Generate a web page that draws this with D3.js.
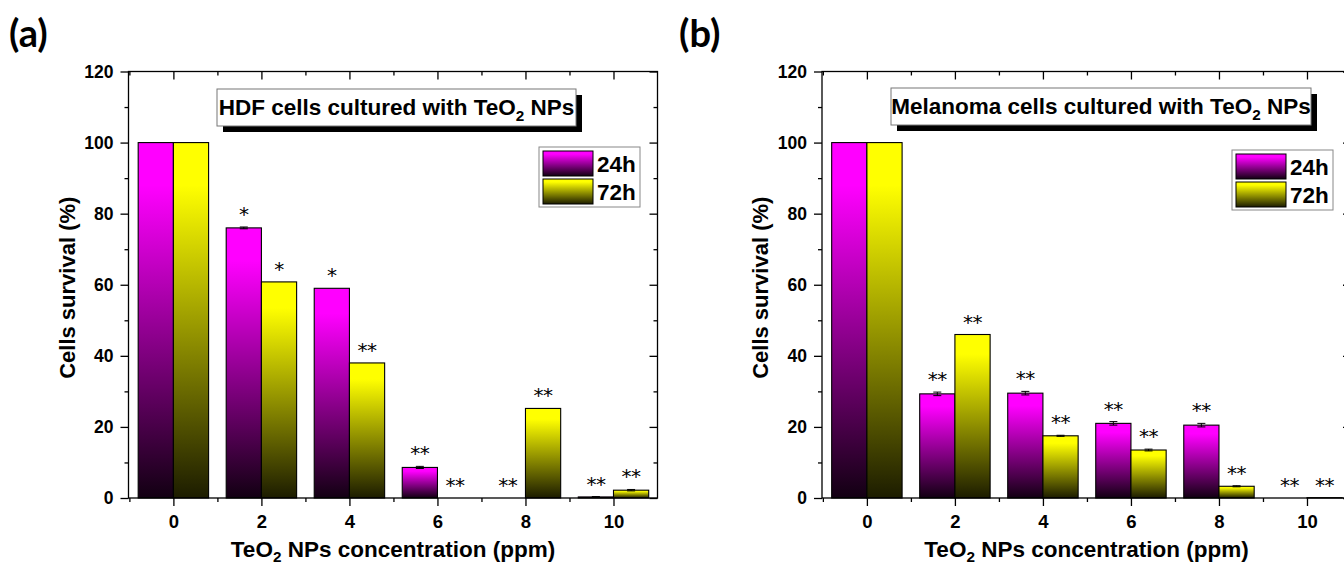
<!DOCTYPE html>
<html><head><meta charset="utf-8">
<script src="https://cdn.jsdelivr.net/npm/d3@7/dist/d3.min.js"></script>
<style>
html,body{margin:0;padding:0;background:#fff;}
svg{display:block;}
text{font-family:"Liberation Sans",Arial,sans-serif;font-weight:bold;fill:#000;}
</style></head>
<body>
<svg id="c" width="1344" height="567"></svg>
<script>
// ---------- data ----------
const concentrations = [0, 2, 4, 6, 8, 10];
const xTickLabels = ["0", "2", "4", "6", "8", "10"];
const yTickLabels = [0, 20, 40, 60, 80, 100, 120];
const seriesNames = ["24h", "72h"];

const hdf24 = [100, 76, 59, 8.6, 0, 0.3];
const hdf24Err = [0, 0.25, 0, 0.3, 0, 0.1];
const hdf72 = [100, 60.8, 38, 0, 25.2, 2.2];
const hdf72Err = [0, 0, 0, 0, 0, 0.2];
const hdf24Sig = ["", "*", "*", "**", "**", "**"];
const hdf72Sig = ["", "*", "**", "**", "**", "**"];

const mel24 = [100, 29.3, 29.5, 21, 20.5, 0];
const mel24Err = [0, 0.5, 0.5, 0.5, 0.5, 0];
const mel72 = [100, 46, 17.5, 13.5, 3.3, 0.1];
const mel72Err = [0, 0, 0.15, 0.25, 0.15, 0];
const mel24Sig = ["", "**", "**", "**", "**", "**"];
const mel72Sig = ["", "**", "**", "**", "**", "**"];

const titleA = ["HDF cells cultured with TeO", "2", " NPs"];
const titleB = ["Melanoma cells cultured with TeO", "2", " NPs"];
const xLabelParts = ["TeO", "2", " NPs concentration (ppm)"];
const yLabel = "Cells survival (%)";

// ---------- drawing ----------
const svg = d3.select("#c");
const defs = svg.append("defs");
function grad(id, c, dark) {
  const g = defs.append("linearGradient").attr("id", id)
    .attr("x1", 0).attr("y1", 0).attr("x2", 0).attr("y2", 1);
  g.append("stop").attr("offset", 0).attr("stop-color", c);
  g.append("stop").attr("offset", 0.12).attr("stop-color", c);
  g.append("stop").attr("offset", 1).attr("stop-color", dark);
}
grad("gM", "#ff00ff", "#120012");
grad("gY", "#ffff00", "#1c1c00");
const fills = ["url(#gM)", "url(#gY)"];
const FONT = '"Liberation Sans",Arial,sans-serif';

function subText(sel, parts, size, sub) {
  sel.append("tspan").text(parts[0]);
  sel.append("tspan").attr("font-size", size * 0.68).attr("dy", size * sub).text(parts[1]);
  sel.append("tspan").attr("dy", -size * sub).text(parts[2]);
}

function panel(o) {
  const g = svg.append("g");
  const left = o.left, width = 529, top = 71.5, bottom = 498;
  const x = d3.scaleLinear().domain([-1.02, 11]).range([left, left + width]);
  const y = d3.scaleLinear().domain([0, 120]).range([bottom, top]);
  const bw = x(0.8) - x(0);

  // bars
  const series = [o.s24, o.s72], errs = [o.e24, o.e72], sigs = [o.sig24, o.sig72];
  series.forEach((vals, si) => {
    const gs = g.append("g");
    gs.selectAll("rect").data(concentrations).join("rect")
      .attr("x", (c) => si === 0 ? x(c) - bw : x(c))
      .attr("y", (c, i) => y(vals[i]))
      .attr("width", bw)
      .attr("height", (c, i) => y(0) - y(vals[i]))
      .attr("fill", fills[si])
      .attr("stroke", "#000").attr("stroke-width", 1.1);
    concentrations.forEach((c, i) => {
      const e = errs[si][i];
      if (e <= 0) return;
      const cx = si === 0 ? x(c) - bw / 2 : x(c) + bw / 2;
      gs.append("line").attr("x1", cx).attr("x2", cx)
        .attr("y1", y(vals[i] - e)).attr("y2", y(vals[i] + e)).attr("stroke", "#000").attr("stroke-width", 1);
      [vals[i] - e, vals[i] + e].forEach(v => gs.append("line")
        .attr("x1", cx - 4).attr("x2", cx + 4).attr("y1", y(v)).attr("y2", y(v))
        .attr("stroke", "#000").attr("stroke-width", 1));
    });
    gs.selectAll("text.sig").data(concentrations).join("text").attr("class", "sig")
      .attr("x", (c) => si === 0 ? x(c) - bw / 2 : x(c) + bw / 2)
      .attr("y", (c, i) => y(vals[i] + errs[si][i]) - 6)
      .attr("text-anchor", "middle").attr("font-size", 20)
      .style("font-family", "'DejaVu Sans', sans-serif").style("font-weight", "normal").attr("letter-spacing", -0.5)
      .text((c, i) => sigs[si][i]);
  });

  // frame
  g.append("rect").attr("x", x(-1.02)).attr("y", top).attr("width", width).attr("height", bottom - top)
    .attr("fill", "none").attr("stroke", "#000").attr("stroke-width", 1.3);

  // x axis
  const xMajor = concentrations, xMinor = [-1, 1, 3, 5, 7, 9];
  const ax = g.append("g").attr("transform", `translate(0,${bottom})`)
    .call(d3.axisBottom(x).tickValues(xMajor).tickFormat((d, i) => xTickLabels[i]).tickSize(8).tickPadding(9));
  ax.select(".domain").remove();
  ax.selectAll("text").attr("font-size", 18.5).style("font-family", FONT).style("font-weight", "bold");
  ax.selectAll("line").attr("stroke-width", 1.3);
  const axm = g.append("g").attr("transform", `translate(0,${bottom})`)
    .call(d3.axisBottom(x).tickValues(xMinor).tickFormat("").tickSize(4));
  axm.select(".domain").remove();
  axm.selectAll("line").attr("stroke-width", 1.3);
  const axt = g.append("g").attr("transform", `translate(0,${top})`)
    .call(d3.axisBottom(x).tickValues(xMajor).tickFormat("").tickSize(8));
  axt.select(".domain").remove(); axt.selectAll("line").attr("stroke-width", 1.3);
  const axtm = g.append("g").attr("transform", `translate(0,${top})`)
    .call(d3.axisBottom(x).tickValues(xMinor).tickFormat("").tickSize(4));
  axtm.select(".domain").remove(); axtm.selectAll("line").attr("stroke-width", 1.3);

  // y axis
  const yMinor = [10, 30, 50, 70, 90, 110];
  const ay = g.append("g").attr("transform", `translate(${left},0)`)
    .call(d3.axisLeft(y).tickValues(yTickLabels).tickSize(8).tickPadding(7));
  ay.select(".domain").remove();
  ay.selectAll("text").attr("font-size", 17.5).style("font-family", FONT).style("font-weight", "bold");
  ay.selectAll("line").attr("stroke-width", 1.3);
  const aym = g.append("g").attr("transform", `translate(${left},0)`)
    .call(d3.axisLeft(y).tickValues(yMinor).tickFormat("").tickSize(4));
  aym.select(".domain").remove(); aym.selectAll("line").attr("stroke-width", 1.3);
  const ar = g.append("g").attr("transform", `translate(${left + width},0)`)
    .call(d3.axisRight(y).tickValues(yTickLabels).tickFormat("").tickSize(-8));
  ar.select(".domain").remove(); ar.selectAll("line").attr("stroke-width", 1.3);
  const arm = g.append("g").attr("transform", `translate(${left + width},0)`)
    .call(d3.axisRight(y).tickValues(yMinor).tickFormat("").tickSize(-4));
  arm.select(".domain").remove(); arm.selectAll("line").attr("stroke-width", 1.3);

  // axis labels
  const xl = g.append("text").attr("x", left + width / 2).attr("y", 557)
    .attr("text-anchor", "middle").attr("font-size", 22.5);
  subText(xl, xLabelParts, 22.5, 0.2);
  g.append("text").attr("transform", `translate(${left - 54},${(top + bottom) / 2 + 3}) rotate(-90)`)
    .attr("text-anchor", "middle").attr("font-size", 22).text(yLabel);

  // title box
  const tb = o.titleBox;
  g.append("rect").attr("x", tb[0] + 6).attr("y", tb[1] + 6).attr("width", tb[2]).attr("height", tb[3]).attr("fill", "#000");
  g.append("rect").attr("x", tb[0]).attr("y", tb[1]).attr("width", tb[2]).attr("height", tb[3])
    .attr("fill", "#fff").attr("stroke", "#777").attr("stroke-width", 1);
  const tt = g.append("text").attr("x", tb[0] + tb[2] / 2).attr("y", tb[1] + 26)
    .attr("text-anchor", "middle").attr("font-size", 22.5);
  subText(tt, o.title, 22.5, 0.28);

  // legend
  const lg = o.legend;
  g.append("rect").attr("x", lg[0]).attr("y", lg[1]).attr("width", 101).attr("height", 60)
    .attr("fill", "#fff").attr("stroke", "#888").attr("stroke-width", 1);
  seriesNames.forEach((n, i) => {
    g.append("rect").attr("x", lg[0] + 4).attr("y", lg[1] + 4 + i * 28).attr("width", 50).attr("height", 25)
      .attr("fill", fills[i]).attr("stroke", "#000").attr("stroke-width", 1);
    g.append("text").attr("x", lg[0] + 58).attr("y", lg[1] + 25 + i * 28).attr("font-size", 22.5).text(n);
  });

  // panel letter
  svg.append("text").attr("x", o.letterX).attr("y", 47).attr("font-size", 38)
    .style("font-family", "Lato, 'Open Sans', sans-serif").style("font-weight", 700).text(o.letter);
}

panel({left: 128.5, s24: hdf24, e24: hdf24Err, s72: hdf72, e72: hdf72Err, sig24: hdf24Sig, sig72: hdf72Sig,
  title: titleA, titleBox: [217, 89, 359, 37], legend: [539, 147], letter: "(a)", letterX: 9});
panel({left: 822, s24: mel24, e24: mel24Err, s72: mel72, e72: mel72Err, sig24: mel24Sig, sig72: mel72Sig,
  title: titleB, titleBox: [891, 88, 420, 37], legend: [1232, 150], letter: "(b)", letterX: 679});
</script>
</body></html>
